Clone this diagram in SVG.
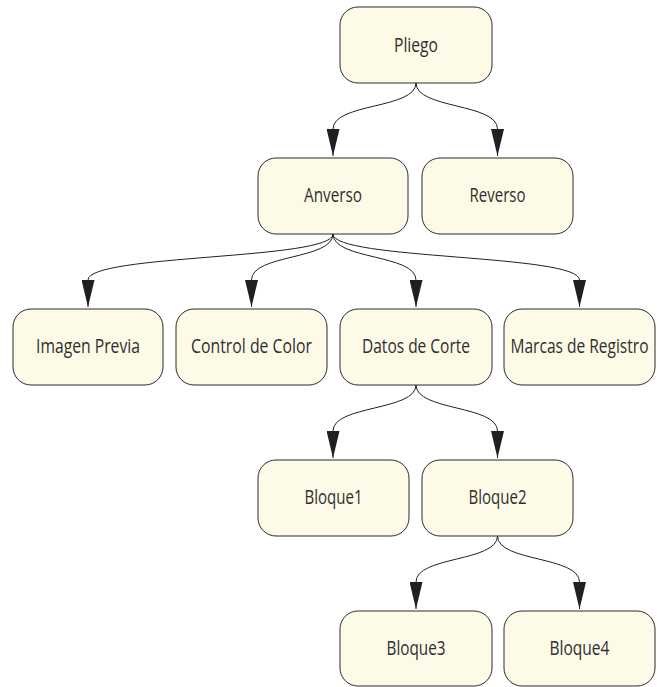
<svg xmlns="http://www.w3.org/2000/svg" width="658" height="687" viewBox="0 0 658 687">
<style>
.n rect{fill:#FEFAE8;stroke:#2b2b2b;stroke-width:1}
.n text{font-family:"Open Sans","Liberation Sans",sans-serif;font-size:19.5px;fill:#2e2e2e;text-anchor:middle}
.c path{fill:none;stroke:#231F20;stroke-width:1;marker-end:url(#ah)}
</style>
<defs>
<marker id="ah" viewBox="0 0 27 13" refX="27" refY="6.5" markerWidth="27" markerHeight="13" markerUnits="userSpaceOnUse" orient="auto">
<path d="M0,0 L27,6.5 L0,13 z" fill="#231F20"/>
</marker>
</defs>
<rect width="658" height="687" fill="#fff"/>
<g class="c">
<path d="M416,83 C416,109 333,103 333,129 L333,156"/>
<path d="M416,83 C416,109 497.5,103 497.5,129 L497.5,156"/>
<path d="M333,234 C333,260 88,254 88,280 L88,307"/>
<path d="M333,234 C333,260 251.5,254 251.5,280 L251.5,307"/>
<path d="M333,234 C333,260 416,254 416,280 L416,307"/>
<path d="M333,234 C333,260 579.5,254 579.5,280 L579.5,307"/>
<path d="M416,385 C416,411 333,405 333,431 L333,458"/>
<path d="M416,385 C416,411 497.5,405 497.5,431 L497.5,458"/>
<path d="M497.5,536 C497.5,562 416,556 416,582 L416,609"/>
<path d="M497.5,536 C497.5,562 579.5,556 579.5,582 L579.5,609"/>
</g>
<g id="pliego" class="n"><rect x="340" y="7" width="152" height="76" rx="18"/><text x="416" y="51.5" textLength="44" lengthAdjust="spacingAndGlyphs">Pliego</text></g>
<g id="anverso" class="n"><rect x="258" y="158" width="150" height="76" rx="18"/><text x="333" y="201.5" textLength="58" lengthAdjust="spacingAndGlyphs">Anverso</text></g>
<g id="reverso" class="n"><rect x="422" y="158" width="151" height="76" rx="18"/><text x="497.5" y="201.5" textLength="56" lengthAdjust="spacingAndGlyphs">Reverso</text></g>
<g id="imagen" class="n"><rect x="13" y="309" width="150" height="76" rx="18"/><text x="88" y="353" textLength="104" lengthAdjust="spacingAndGlyphs">Imagen Previa</text></g>
<g id="control" class="n"><rect x="176" y="309" width="151" height="76" rx="18"/><text x="251.5" y="353" textLength="121" lengthAdjust="spacingAndGlyphs">Control de Color</text></g>
<g id="datos" class="n"><rect x="340" y="309" width="152" height="76" rx="18"/><text x="416" y="353" textLength="108" lengthAdjust="spacingAndGlyphs">Datos de Corte</text></g>
<g id="marcas" class="n"><rect x="504" y="309" width="151" height="76" rx="18"/><text x="579.5" y="353" textLength="138" lengthAdjust="spacingAndGlyphs">Marcas de Registro</text></g>
<g id="bloque1" class="n"><rect x="258" y="460" width="151" height="76" rx="18"/><text x="333.5" y="504" textLength="58" lengthAdjust="spacingAndGlyphs">Bloque1</text></g>
<g id="bloque2" class="n"><rect x="422" y="460" width="151" height="76" rx="18"/><text x="497.5" y="504" textLength="58" lengthAdjust="spacingAndGlyphs">Bloque2</text></g>
<g id="bloque3" class="n"><rect x="340" y="611" width="152" height="75" rx="18"/><text x="416" y="655" textLength="59" lengthAdjust="spacingAndGlyphs">Bloque3</text></g>
<g id="bloque4" class="n"><rect x="504" y="611" width="151" height="75" rx="18"/><text x="579.5" y="655" textLength="60" lengthAdjust="spacingAndGlyphs">Bloque4</text></g>
</svg>
